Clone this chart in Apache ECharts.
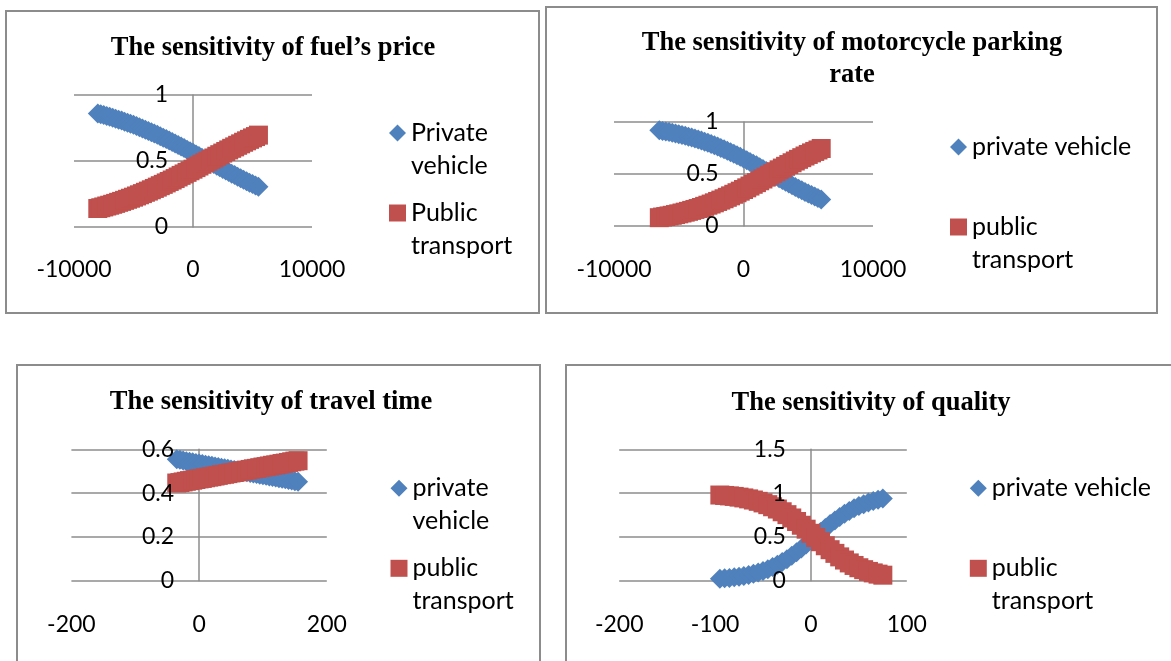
<!DOCTYPE html>
<html>
<head>
<meta charset="utf-8">
<title>Sensitivity analysis</title>
<script src="https://cdn.jsdelivr.net/npm/echarts@6/dist/echarts.min.js"></script>
<style>
  html, body { margin: 0; padding: 0; background: #fff; }
  body { width: 1171px; height: 661px; position: relative; overflow: hidden; }
  .panel { position: absolute; box-sizing: border-box; border: 2px solid #8c8c8c; }
  .chart { position: absolute; }
</style>
</head>
<body>
<div class="panel" style="left:5px;top:10px;width:535px;height:304px"></div>
<div class="panel" style="left:545px;top:6px;width:613px;height:308px"></div>
<div class="panel" style="left:16px;top:364px;width:525px;height:320px"></div>
<div class="panel" style="left:565px;top:364px;width:612px;height:320px"></div>

<div id="fuel" class="chart" style="left:5px;top:10px;width:535px;height:304px"></div>
<div id="parking" class="chart" style="left:545px;top:6px;width:613px;height:308px"></div>
<div id="time" class="chart" style="left:16px;top:364px;width:525px;height:300px"></div>
<div id="quality" class="chart" style="left:565px;top:364px;width:612px;height:300px"></div>

<script>
// fuel's price
const fuelX = [-8000, -7750, -7500, -7250, -7000, -6750, -6500, -6250, -6000, -5750, -5500, -5250, -5000, -4750,
  -4500, -4250, -4000, -3750, -3500, -3250, -3000, -2750, -2500, -2250, -2000, -1750, -1500, -1250, -1000, -750,
  -500, -250, 0, 250, 500, 750, 1000, 1250, 1500, 1750, 2000, 2250, 2500, 2750, 3000, 3250, 3500, 3750, 4000,
  4250, 4500, 4750, 5000, 5250, 5500]
const fuelPrivate = [0.860, 0.854, 0.848, 0.841, 0.835, 0.828, 0.821, 0.813, 0.806, 0.798, 0.790, 0.782, 0.774, 0.765,
  0.756, 0.747, 0.737, 0.728, 0.718, 0.708, 0.698, 0.687, 0.677, 0.666, 0.655, 0.644, 0.633, 0.621, 0.609, 0.598,
  0.586, 0.574, 0.562, 0.550, 0.538, 0.525, 0.513, 0.501, 0.489, 0.477, 0.464, 0.452, 0.440, 0.428, 0.416, 0.404,
  0.393, 0.381, 0.370, 0.358, 0.347, 0.336, 0.325, 0.315, 0.304]
const fuelPublic = [0.140, 0.146, 0.152, 0.159, 0.165, 0.172, 0.179, 0.187, 0.194, 0.202, 0.210, 0.218, 0.226, 0.235,
  0.244, 0.253, 0.263, 0.272, 0.282, 0.292, 0.302, 0.313, 0.323, 0.334, 0.345, 0.356, 0.367, 0.379, 0.391, 0.402,
  0.414, 0.426, 0.438, 0.450, 0.462, 0.475, 0.487, 0.499, 0.511, 0.523, 0.536, 0.548, 0.560, 0.572, 0.584, 0.596,
  0.607, 0.619, 0.630, 0.642, 0.653, 0.664, 0.675, 0.685, 0.696]
const fuelXTicks = [-10000, 0, 10000]
const fuelYTicks = [0, 0.5, 1]

// motorcycle parking rate
const parkX = [-6500, -6250, -6000, -5750, -5500, -5250, -5000, -4750, -4500, -4250, -4000, -3750, -3500, -3250,
  -3000, -2750, -2500, -2250, -2000, -1750, -1500, -1250, -1000, -750, -500, -250, 0, 250, 500, 750, 1000, 1250,
  1500, 1750, 2000, 2250, 2500, 2750, 3000, 3250, 3500, 3750, 4000, 4250, 4500, 4750, 5000, 5250, 5500, 5750, 6000]
const parkPrivate = [0.920, 0.914, 0.909, 0.903, 0.897, 0.890, 0.883, 0.875, 0.867, 0.859, 0.850, 0.841, 0.832, 0.822,
  0.811, 0.800, 0.789, 0.777, 0.764, 0.751, 0.738, 0.724, 0.710, 0.695, 0.680, 0.665, 0.649, 0.633, 0.616, 0.599,
  0.583, 0.565, 0.548, 0.530, 0.513, 0.495, 0.478, 0.460, 0.443, 0.426, 0.409, 0.392, 0.375, 0.359, 0.343, 0.327,
  0.312, 0.297, 0.283, 0.269, 0.255]
const parkPublic = [0.080, 0.086, 0.091, 0.097, 0.103, 0.110, 0.117, 0.125, 0.133, 0.141, 0.150, 0.159, 0.168, 0.178,
  0.189, 0.200, 0.211, 0.223, 0.236, 0.249, 0.262, 0.276, 0.290, 0.305, 0.320, 0.335, 0.351, 0.367, 0.384, 0.401,
  0.417, 0.435, 0.452, 0.470, 0.487, 0.505, 0.522, 0.540, 0.557, 0.574, 0.591, 0.608, 0.625, 0.641, 0.657, 0.673,
  0.688, 0.703, 0.717, 0.731, 0.745]
const parkXTicks = [-10000, 0, 10000]
const parkYTicks = [0, 0.5, 1]

// travel time
const timeX = [-35, -30, -25, -20, -15, -10, -5, 0, 5, 10, 15, 20, 25, 30, 35, 40, 45, 50, 55, 60, 65, 70, 75, 80,
  85, 90, 95, 100, 105, 110, 115, 120, 125, 130, 135, 140, 145, 150, 155]
const timePrivate = [0.554, 0.552, 0.549, 0.546, 0.543, 0.541, 0.538, 0.535, 0.533, 0.530, 0.527, 0.525, 0.522,
  0.519, 0.516, 0.514, 0.511, 0.508, 0.506, 0.503, 0.500, 0.498, 0.495, 0.492, 0.489, 0.487, 0.484, 0.481, 0.479,
  0.476, 0.473, 0.471, 0.468, 0.465, 0.463, 0.460, 0.457, 0.454, 0.452]
const timePublic = [0.446, 0.448, 0.451, 0.454, 0.457, 0.459, 0.462, 0.465, 0.467, 0.470, 0.473, 0.475, 0.478,
  0.481, 0.484, 0.486, 0.489, 0.492, 0.494, 0.497, 0.500, 0.502, 0.505, 0.508, 0.511, 0.513, 0.516, 0.519, 0.521,
  0.524, 0.527, 0.529, 0.532, 0.535, 0.537, 0.540, 0.543, 0.546, 0.548]
const timeXTicks = [-200, 0, 200]
const timeYTicks = [0, 0.2, 0.4, 0.6]

// quality
const qualityX = [-95, -90, -85, -80, -75, -70, -65, -60, -55, -50, -45, -40, -35, -30, -25, -20, -15, -10, -5,
  0, 5, 10, 15, 20, 25, 30, 35, 40, 45, 50, 55, 60, 65, 70, 75]
const qualityPrivate = [0.022, 0.027, 0.032, 0.038, 0.046, 0.055, 0.066, 0.079, 0.094, 0.112, 0.132, 0.156, 0.182,
  0.213, 0.246, 0.284, 0.324, 0.367, 0.412, 0.459, 0.507, 0.555, 0.601, 0.646, 0.688, 0.728, 0.764, 0.797,
  0.826, 0.852, 0.874, 0.894, 0.911, 0.925, 0.937]
const qualityPublic = [0.978, 0.973, 0.968, 0.962, 0.954, 0.945, 0.934, 0.921, 0.906, 0.888, 0.868, 0.844, 0.818,
  0.787, 0.754, 0.716, 0.676, 0.633, 0.588, 0.541, 0.493, 0.445, 0.399, 0.354, 0.312, 0.272, 0.236, 0.203,
  0.174, 0.148, 0.126, 0.106, 0.089, 0.075, 0.063]
const qualityXTicks = [-200, -100, 0, 100]
const qualityYTicks = [0, 0.5, 1, 1.5]

const BLUE = '#4F81BD'
const RED = '#C0504D'
const GRID_GRAY = '#8c8c8c'
const LABEL_FONT = 'Lato, "DejaVu Sans", sans-serif'
const LEGEND_LINE = 33

function yAxisOf(ticks, labelsOnly, shift) {
  return {
    type: 'value',
    position: 'left',
    min: ticks[0],
    max: ticks[ticks.length - 1],
    interval: ticks[1] - ticks[0],
    z: labelsOnly ? 5 : 0,
    // label axis is moved onto x = 0 by hand, the other one sits there via onZero
    offset: labelsOnly ? -shift : 0,
    axisLine: {
      show: !labelsOnly,
      onZero: !labelsOnly,
      lineStyle: { color: GRID_GRAY, width: 1.5 }
    },
    axisTick: { show: false },
    splitLine: { show: !labelsOnly, lineStyle: { color: GRID_GRAY, width: 1.5 } },
    axisLabel: {
      show: labelsOnly,
      margin: 25,
      color: '#000',
      fontFamily: LABEL_FONT,
      fontSize: 23
    }
  }
}

function legendOf(cfg, i) {
  const label = cfg.labels[i]
  const wrapped = label.indexOf('\n') >= 0
  // a blank first line keeps the icon level with the first visible line
  const text = wrapped ? '\n' + label : label
  const boxH = (wrapped ? 3 : 1) * LEGEND_LINE
  return {
    orient: 'vertical',
    left: cfg.legendLeft,
    top: cfg.legendAnchors[i] - boxH / 2,
    padding: 0,
    itemWidth: 17,
    itemHeight: 17,
    selectedMode: false,
    textStyle: { fontFamily: LABEL_FONT, fontSize: 25, lineHeight: LEGEND_LINE, color: '#000' },
    data: [{ name: cfg.names[i], icon: i === 0 ? 'diamond' : 'rect' }],
    formatter: () => text
  }
}

function drawPanel(id, cfg) {
  const chart = echarts.init(document.getElementById(id))
  const xMin = cfg.xTicks[0]
  const xMax = cfg.xTicks[cfg.xTicks.length - 1]
  const zeroShift = cfg.grid[2] * (0 - xMin) / (xMax - xMin)

  chart.setOption({
    animation: false,
    title: {
      text: cfg.title,
      left: cfg.titleX,
      textAlign: 'center',
      top: cfg.titleTop,
      padding: 0,
      textStyle: {
        fontFamily: '"Liberation Serif", "Times New Roman", serif',
        fontWeight: 'bold',
        fontSize: 26.5,
        lineHeight: 32,
        color: '#000'
      }
    },
    legend: [legendOf(cfg, 0), legendOf(cfg, 1)],
    grid: {
      left: cfg.grid[0],
      top: cfg.grid[1],
      width: cfg.grid[2],
      height: cfg.grid[3],
      containLabel: false,
      outerBoundsMode: 'none'
    },
    xAxis: {
      type: 'value',
      min: xMin,
      max: xMax,
      interval: cfg.xTicks[1] - cfg.xTicks[0],
      axisLine: { show: false },
      axisTick: { show: false },
      splitLine: { show: false },
      axisLabel: {
        margin: cfg.xMargin,
        color: '#000',
        fontFamily: LABEL_FONT,
        fontSize: 23,
        formatter: v => String(v)
      }
    },
    yAxis: [yAxisOf(cfg.yTicks, false, 0), yAxisOf(cfg.yTicks, true, zeroShift)],
    series: [
      {
        name: cfg.names[0],
        type: 'scatter',
        symbol: 'diamond',
        symbolSize: 20,
        itemStyle: { color: BLUE, opacity: 1 },
        silent: true,
        data: cfg.x.map((x, i) => [x, cfg.yPrivate[i]])
      },
      {
        name: cfg.names[1],
        type: 'scatter',
        symbol: 'rect',
        symbolSize: 19,
        itemStyle: { color: RED, opacity: 1 },
        silent: true,
        data: cfg.x.map((x, i) => [x, cfg.yPublic[i]])
      }
    ]
  })
}

drawPanel('fuel', {
  title: 'The sensitivity of fuel\u2019s price',
  titleX: 268,
  titleTop: 22,
  names: ['Private vehicle', 'Public transport'],
  labels: ['Private\nvehicle', 'Public\ntransport'],
  legendLeft: 384,
  legendAnchors: [123, 203],
  grid: [69, 85, 238, 132],
  xMargin: 31,
  xTicks: fuelXTicks,
  yTicks: fuelYTicks,
  x: fuelX,
  yPrivate: fuelPrivate,
  yPublic: fuelPublic
})

drawPanel('parking', {
  title: 'The sensitivity of motorcycle parking\nrate',
  titleX: 307,
  titleTop: 21,
  names: ['private vehicle', 'public transport'],
  labels: ['private vehicle', 'public\ntransport'],
  legendLeft: 405,
  legendAnchors: [141, 221],
  grid: [69, 116, 259, 104],
  xMargin: 32,
  xTicks: parkXTicks,
  yTicks: parkYTicks,
  x: parkX,
  yPrivate: parkPrivate,
  yPublic: parkPublic
})

drawPanel('time', {
  title: 'The sensitivity of travel time',
  titleX: 255,
  titleTop: 22,
  names: ['private vehicle', 'public transport'],
  labels: ['private\nvehicle', 'public\ntransport'],
  legendLeft: 374.5,
  legendAnchors: [124.3, 204.3],
  grid: [55.4, 85.3, 255.4, 131.4],
  xMargin: 32,
  xTicks: timeXTicks,
  yTicks: timeYTicks,
  x: timeX,
  yPrivate: timePrivate,
  yPublic: timePublic
})

drawPanel('quality', {
  title: 'The sensitivity of quality',
  titleX: 306,
  titleTop: 23,
  names: ['private vehicle', 'public transport'],
  labels: ['private vehicle', 'public\ntransport'],
  legendLeft: 404.8,
  legendAnchors: [124.3, 204.3],
  grid: [54.2, 85.3, 287.6, 131.4],
  xMargin: 32,
  xTicks: qualityXTicks,
  yTicks: qualityYTicks,
  x: qualityX,
  yPrivate: qualityPrivate,
  yPublic: qualityPublic
})
</script>
</body>
</html>
